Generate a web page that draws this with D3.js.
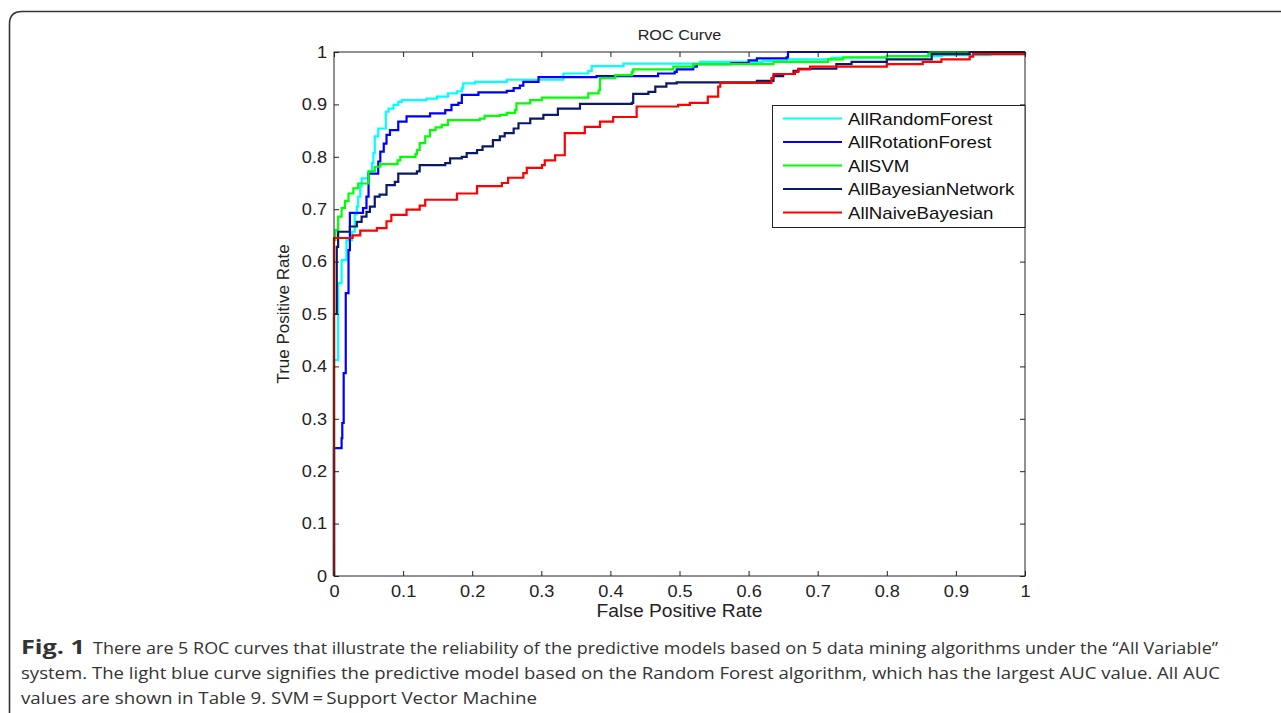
<!DOCTYPE html>
<html lang="en">
<head>
    <meta charset="UTF-8">
    <title>ROC Curve</title>
    <style>
        body { margin: 0; padding: 0; background: #fff; }
        svg { display: block; }
        .tick text { font-family: "Liberation Sans", Arial, sans-serif; font-size: 16.5px; fill: #222; }
        .tick line { stroke: #222; }
    </style>
    <script src="https://d3js.org/d3.v7.min.js"></script>
</head>
<body>
<svg id="chart" width="1281" height="713"></svg>

<script>
    // tick labels
    const xTicks = [0, 0.1, 0.2, 0.3, 0.4, 0.5, 0.6, 0.7, 0.8, 0.9, 1];
    const yTicks = [0, 0.1, 0.2, 0.3, 0.4, 0.5, 0.6, 0.7, 0.8, 0.9, 1];

    const seriesNames = ['AllRandomForest', 'AllRotationForest', 'AllSVM', 'AllBayesianNetwork', 'AllNaiveBayesian'];
    const seriesColors = ['#00ffff', '#0000ff', '#00ff00', '#0a1a6b', '#ff0000'];

    // [fpr, tpr] corner points
    const randomForest = [
        [0, 0], [0, 0.412], [0.006, 0.559], [0.011, 0.603], [0.018, 0.641], [0.026, 0.657],
        [0.030, 0.690], [0.033, 0.705], [0.035, 0.724], [0.038, 0.743], [0.040, 0.759],
        [0.050, 0.772], [0.055, 0.788], [0.057, 0.807], [0.059, 0.839], [0.064, 0.854],
        [0.075, 0.886], [0.079, 0.892], [0.086, 0.899], [0.093, 0.905], [0.098, 0.908],
        [0.134, 0.911], [0.149, 0.915], [0.165, 0.921], [0.178, 0.925], [0.185, 0.931],
        [0.187, 0.940], [0.204, 0.943], [0.250, 0.947], [0.332, 0.959], [0.368, 0.964],
        [0.373, 0.973], [0.419, 0.978], [0.530, 0.981], [0.620, 0.983], [0.655, 0.986],
        [0.720, 0.989], [0.800, 0.992], [0.880, 0.994], [0.950, 0.996], [1, 1]
    ];
    const rotationForest = [
        [0, 0], [0, 0.244], [0.011, 0.263], [0.012, 0.292], [0.014, 0.387], [0.017, 0.540],
        [0.021, 0.622], [0.023, 0.693], [0.042, 0.702], [0.047, 0.724], [0.050, 0.768],
        [0.064, 0.791], [0.067, 0.810], [0.072, 0.825], [0.076, 0.842], [0.081, 0.851],
        [0.093, 0.867], [0.105, 0.877], [0.139, 0.883], [0.161, 0.889], [0.170, 0.899],
        [0.180, 0.903], [0.185, 0.918], [0.209, 0.923], [0.250, 0.926], [0.260, 0.931],
        [0.269, 0.936], [0.274, 0.943], [0.296, 0.952], [0.380, 0.954], [0.469, 0.959],
        [0.493, 0.962], [0.496, 0.967], [0.520, 0.972], [0.525, 0.977], [0.575, 0.979],
        [0.600, 0.984], [0.612, 0.988], [0.655, 0.990], [0.657, 1.0], [1, 1]
    ];
    const svm = [
        [0, 0], [0, 0.641], [0.002, 0.660], [0.006, 0.686], [0.011, 0.702], [0.016, 0.716],
        [0.021, 0.730], [0.028, 0.740], [0.035, 0.749], [0.050, 0.772], [0.059, 0.781],
        [0.067, 0.786], [0.092, 0.793], [0.096, 0.800], [0.118, 0.805], [0.120, 0.813],
        [0.124, 0.826], [0.132, 0.839], [0.139, 0.851], [0.147, 0.856], [0.156, 0.861],
        [0.165, 0.870], [0.211, 0.873], [0.218, 0.878], [0.240, 0.880], [0.250, 0.884],
        [0.262, 0.889], [0.264, 0.902], [0.284, 0.908], [0.301, 0.913], [0.368, 0.921],
        [0.383, 0.927], [0.385, 0.950], [0.407, 0.956], [0.431, 0.962], [0.433, 0.967],
        [0.491, 0.972], [0.520, 0.977], [0.636, 0.981], [0.715, 0.986], [0.737, 0.990],
        [0.800, 0.992], [0.860, 0.996], [0.862, 1.0], [1, 1]
    ];
    const bayesianNetwork = [
        [0, 0], [0, 0.500], [0.004, 0.628], [0.006, 0.657], [0.023, 0.667], [0.033, 0.676],
        [0.040, 0.686], [0.047, 0.695], [0.052, 0.705], [0.059, 0.724], [0.066, 0.728],
        [0.076, 0.746], [0.088, 0.752], [0.093, 0.768], [0.120, 0.772], [0.124, 0.784],
        [0.161, 0.788], [0.168, 0.797], [0.185, 0.800], [0.192, 0.807], [0.207, 0.813],
        [0.215, 0.820], [0.230, 0.832], [0.240, 0.839], [0.247, 0.845], [0.260, 0.854],
        [0.267, 0.864], [0.284, 0.873], [0.303, 0.880], [0.324, 0.892], [0.356, 0.901],
        [0.431, 0.903], [0.433, 0.920], [0.455, 0.924], [0.465, 0.934], [0.481, 0.940],
        [0.496, 0.942], [0.612, 0.945], [0.636, 0.954], [0.650, 0.958], [0.665, 0.964],
        [0.672, 0.968], [0.727, 0.977], [0.749, 0.981], [0.800, 0.986], [0.865, 0.996],
        [0.920, 1.0], [1, 1]
    ];
    const naiveBayesian = [
        [0, 0], [0, 0.645], [0.027, 0.650], [0.038, 0.659], [0.062, 0.664], [0.076, 0.677],
        [0.083, 0.689], [0.105, 0.699], [0.124, 0.707], [0.132, 0.718], [0.178, 0.730],
        [0.207, 0.744], [0.243, 0.750], [0.252, 0.760], [0.274, 0.769], [0.279, 0.779],
        [0.301, 0.784], [0.305, 0.793], [0.320, 0.803], [0.334, 0.845], [0.363, 0.857],
        [0.385, 0.867], [0.404, 0.876], [0.438, 0.896], [0.498, 0.899], [0.515, 0.903],
        [0.541, 0.915], [0.556, 0.934], [0.559, 0.941], [0.633, 0.950], [0.636, 0.958],
        [0.667, 0.962], [0.672, 0.967], [0.689, 0.972], [0.800, 0.977], [0.852, 0.981],
        [0.879, 0.986], [0.920, 0.991], [0.925, 0.996], [1, 1]
    ];
    const seriesData = [randomForest, rotationForest, svm, bayesianNetwork, naiveBayesian];

    const captionLines = [
        'There are 5 ROC curves that illustrate the reliability of the predictive models based on 5 data mining algorithms under the \u201CAll Variable\u201D',
        'system. The light blue curve signifies the predictive model based on the Random Forest algorithm, which has the largest AUC value. All AUC',
        'values are shown in Table 9. SVM\u2009=\u2009Support Vector Machine'
    ];

    const svg = d3.select('#chart');
    const font = '"Liberation Sans", Arial, sans-serif';

    // the figure text is a bit wider than the font, stretch it sideways
    function stretch(sel, k) {
        sel.each(function() {
            const w = this.getComputedTextLength();
            d3.select(this).attr('textLength', w * k).attr('lengthAdjust', 'spacingAndGlyphs');
        });
    }

    // frame round the figure
    svg.append('path')
        .attr('d', 'M9.5,713 L9.5,24 Q9.5,11.5 22,11.5 L1281,11.5')
        .attr('fill', 'none')
        .attr('stroke', '#333')
        .attr('stroke-width', 1.6);

    const plotLeft = 334, plotRight = 1025, plotTop = 52, plotBottom = 576;
    const x = d3.scaleLinear().domain([0, 1]).range([plotLeft, plotRight]);
    const y = d3.scaleLinear().domain([0, 1]).range([plotBottom, plotTop]);
    const fmt = d => String(+d.toFixed(1));

    const plot = svg.append('g');

    // curves
    const line = d3.line()
        .x(d => x(d[0]))
        .y(d => y(d[1]))
        .curve(d3.curveStepAfter);

    seriesData.forEach((data, i) => {
        plot.append('path')
            .datum(data)
            .attr('d', line)
            .attr('fill', 'none')
            .attr('stroke', seriesColors[i])
            .attr('stroke-width', 2.2);
    });

    // axes, ticks inward on all sides
    const gx = svg.append('g').attr('transform', `translate(0,${plotBottom})`)
        .call(d3.axisBottom(x).tickValues(xTicks).tickFormat(fmt).tickSizeInner(-5).tickSizeOuter(0).tickPadding(9));
    const gy = svg.append('g').attr('transform', `translate(${plotLeft},0)`)
        .call(d3.axisLeft(y).tickValues(yTicks).tickFormat(fmt).tickSizeInner(-5).tickSizeOuter(0).tickPadding(7));
    const gt = svg.append('g').attr('transform', `translate(0,${plotTop})`)
        .call(d3.axisTop(x).tickValues(xTicks).tickFormat('').tickSizeInner(-5).tickSizeOuter(0));
    const gr = svg.append('g').attr('transform', `translate(${plotRight},0)`)
        .call(d3.axisRight(y).tickValues(yTicks).tickFormat('').tickSizeInner(-5).tickSizeOuter(0));
    [gx, gy, gt, gr].forEach(g => g.select('.domain').remove());
    stretch(gx.selectAll('.tick text'), 1.1);
    stretch(gy.selectAll('.tick text'), 1.1);

    svg.append('rect')
        .attr('x', plotLeft).attr('y', plotTop)
        .attr('width', plotRight - plotLeft).attr('height', plotBottom - plotTop)
        .attr('fill', 'none').attr('stroke', '#222').attr('stroke-width', 1);

    // titles
    svg.append('text')
        .attr('x', (plotLeft + plotRight) / 2).attr('y', 40)
        .attr('text-anchor', 'middle')
        .style('font-family', font).style('font-size', '15px').style('fill', '#222')
        .text('ROC Curve')
        .call(stretch, 1.08);
    svg.append('text')
        .attr('x', (plotLeft + plotRight) / 2).attr('y', 617)
        .attr('text-anchor', 'middle')
        .style('font-family', font).style('font-size', '17.5px').style('fill', '#222')
        .text('False Positive Rate')
        .call(stretch, 1.1);
    svg.append('text')
        .attr('transform', `translate(289,${(plotTop + plotBottom) / 2}) rotate(-90)`)
        .attr('text-anchor', 'middle')
        .style('font-family', font).style('font-size', '17px').style('fill', '#222')
        .text('True Positive Rate');

    // legend
    const lg = svg.append('g');
    lg.append('rect')
        .attr('x', 772.5).attr('y', 105.5)
        .attr('width', plotRight - 772.5).attr('height', 122)
        .attr('fill', '#fff').attr('stroke', '#222').attr('stroke-width', 1);
    seriesNames.forEach((name, i) => {
        const cy = 118.5 + i * 23.5;
        lg.append('line')
            .attr('x1', 783).attr('x2', 842)
            .attr('y1', cy).attr('y2', cy)
            .attr('stroke', seriesColors[i]).attr('stroke-width', 2.2);
        lg.append('text')
            .attr('x', 848).attr('y', cy + 6)
            .style('font-family', font).style('font-size', '17px').style('fill', '#111')
            .text(name)
            .call(stretch, 1.1);
    });

    // caption
    const capFont = '"Open Sans", "Noto Sans", sans-serif';
    svg.append('text')
        .attr('x', 21).attr('y', 654)
        .attr('textLength', 64).attr('lengthAdjust', 'spacingAndGlyphs')
        .style('font-family', capFont).style('font-size', '19px').style('font-weight', 'bold').style('fill', '#333')
        .text('Fig. 1');
    const capStarts = [93, 21, 21];
    const capWidths = [1125, 1199, 516];
    captionLines.forEach((t, i) => {
        svg.append('text')
            .attr('x', capStarts[i]).attr('y', 654 + i * 25)
            .attr('textLength', capWidths[i])
            .attr('lengthAdjust', 'spacingAndGlyphs')
            .style('font-family', capFont).style('font-size', '17px').style('fill', '#333')
            .text(t);
    });
</script>
</body>
</html>
